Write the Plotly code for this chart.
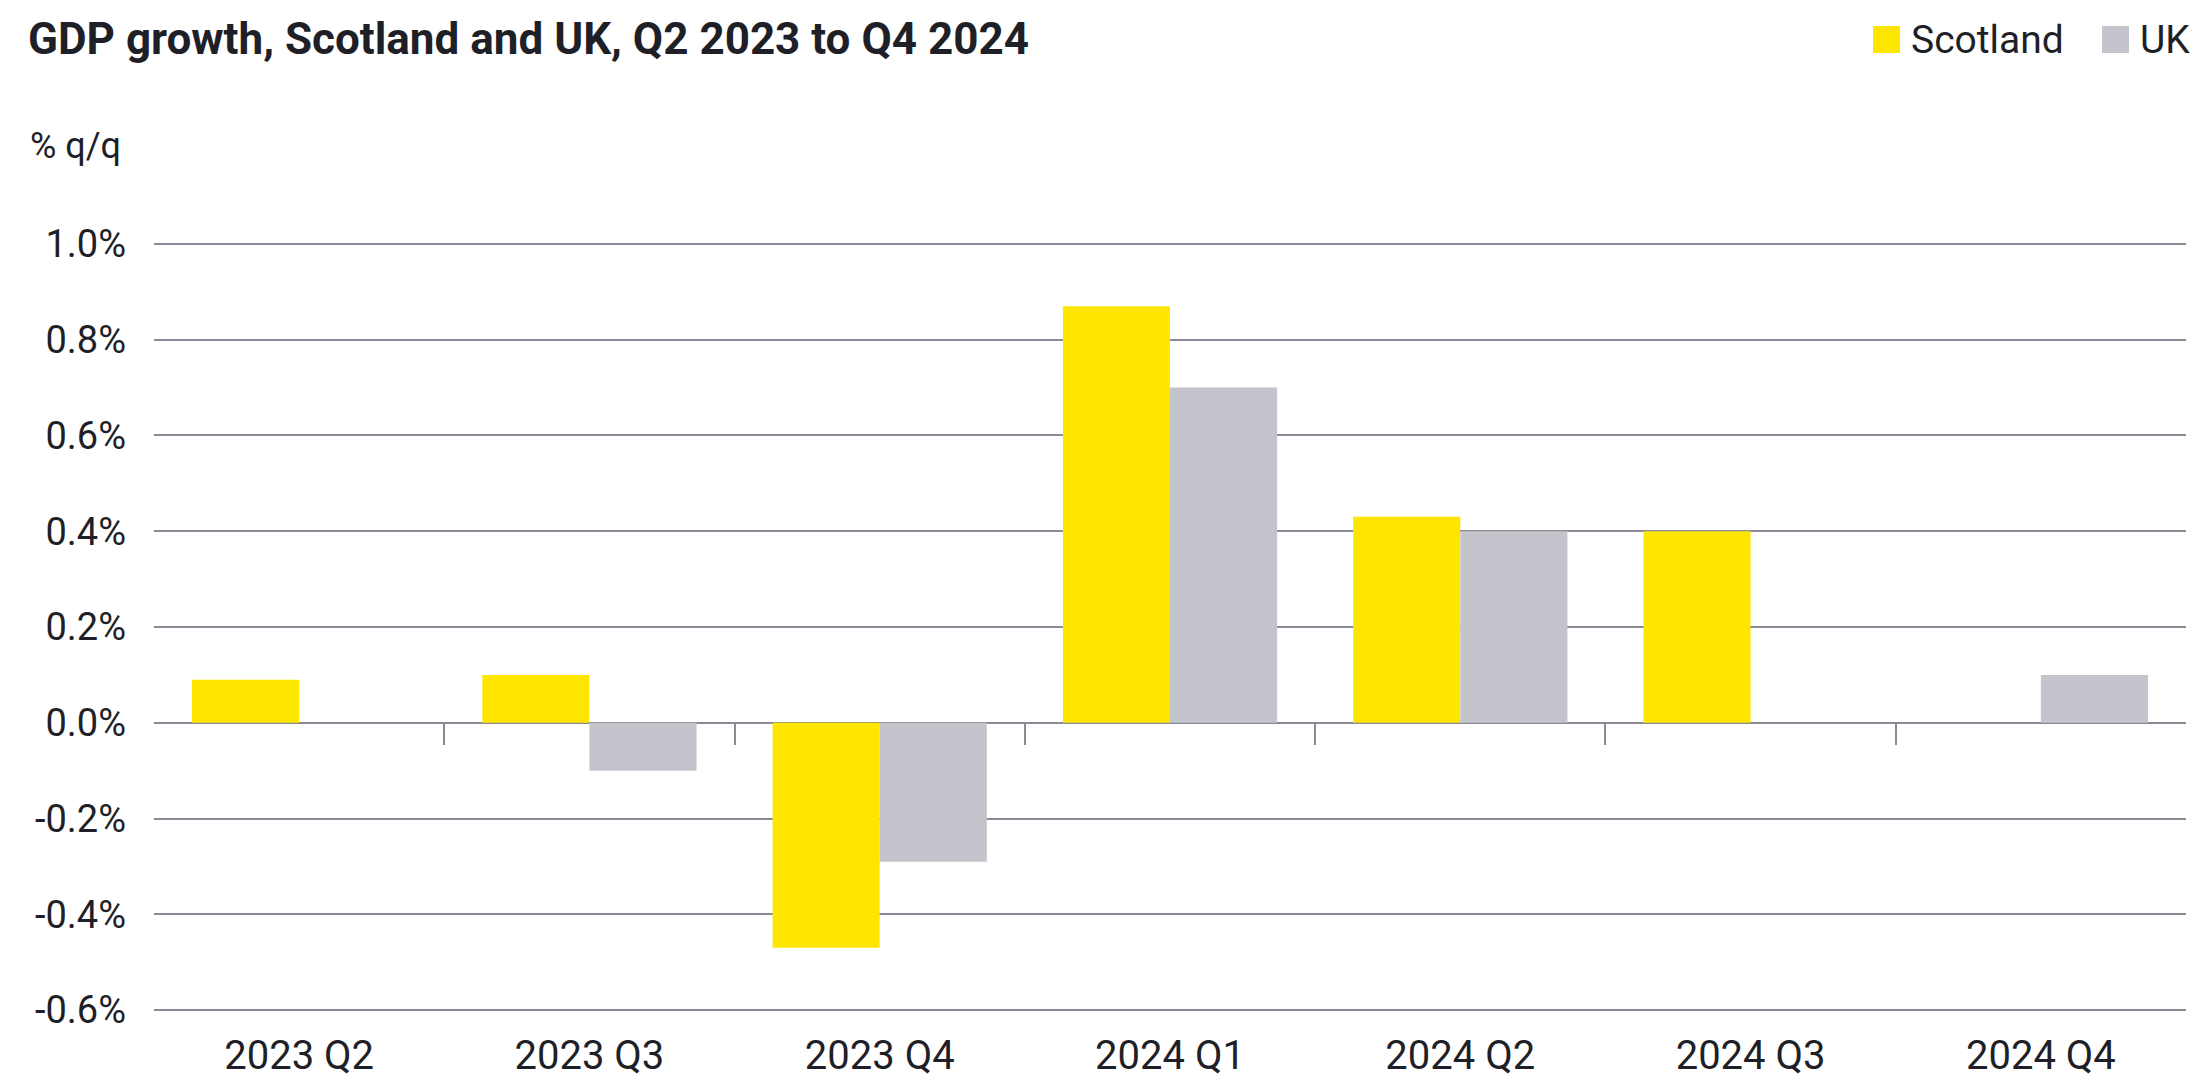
import plotly.graph_objects as go

categories = ["2023 Q2", "2023 Q3", "2023 Q4", "2024 Q1", "2024 Q2", "2024 Q3", "2024 Q4"]
scotland = [0.09, 0.10, -0.47, 0.87, 0.43, 0.40, 0.0]
uk = [0.0, -0.10, -0.29, 0.70, 0.40, 0.0, 0.10]
y_ticks = [-0.6, -0.4, -0.2, 0.0, 0.2, 0.4, 0.6, 0.8, 1.0]
y_tick_text = [f"{v:.1f}%" for v in y_ticks]

YELLOW = "#FFE600"
GREY = "#C4C4CD"
TEXT = "#1F1F28"
GRID = "#8A8A96"

W, H = 2197, 1079
ML, MR, MT, MB = 154, 11, 242, 67
PW = W - ML - MR
PH = H - MT - MB


def px_x(px):
    return (px - ML) / PW


def px_y(py):
    return (H - MB - py) / PH


fig = go.Figure()
fig.add_trace(go.Bar(name="Scotland", x=categories, y=scotland, marker_color=YELLOW,
                     marker_line_width=0, showlegend=False))
fig.add_trace(go.Bar(name="UK", x=categories, y=uk, marker_color=GREY,
                     marker_line_width=0, showlegend=False))
# helper trace so the boundary-tick axis is drawn
fig.add_trace(go.Scatter(x=[], y=[], xaxis="x2", yaxis="y", showlegend=False, hoverinfo="skip"))

pad = 0.004
ymin, ymax = y_ticks[0] - pad, y_ticks[-1] + pad
zero_pos = (0 - ymin) / (ymax - ymin)

font_main = "Roboto, Arial, sans-serif"

fig.update_layout(
    width=W, height=H,
    margin=dict(l=ML, r=MR, t=MT, b=MB, autoexpand=False),
    paper_bgcolor="white", plot_bgcolor="white",
    barmode="group", bargap=0.262, bargroupgap=0,
    showlegend=False,
    font=dict(family=font_main, color=TEXT, size=38),
    title=dict(text="<b>GDP growth, Scotland and UK, Q2 2023 to Q4 2024</b>",
               xref="container", yref="container", x=28 / W, xanchor="left",
               y=1 - 39 / H, yanchor="middle",
               font=dict(family=font_main, size=44, color=TEXT)),
    xaxis=dict(type="category", showgrid=False, showline=False, zeroline=False,
               automargin=False, ticks="", tickfont=dict(size=40, color=TEXT),
               ticklabelstandoff=16, range=[-0.5, len(categories) - 0.5]),
    xaxis2=dict(overlaying="x", anchor="free", position=zero_pos, side="bottom",
                range=[-0.5, len(categories) - 0.5], showgrid=False, zeroline=False,
                automargin=False, showline=False, showticklabels=False,
                ticks="outside", ticklen=21, tickwidth=2, tickcolor=GRID,
                tickvals=[i + 0.5 for i in range(len(categories) - 1)]),
    yaxis=dict(range=[ymin, ymax], tickvals=y_ticks, ticktext=y_tick_text,
               automargin=False, showgrid=True, gridcolor=GRID, gridwidth=2,
               zeroline=True, zerolinecolor=GRID, zerolinewidth=2,
               showline=False, ticks="", ticklabelstandoff=27,
               tickfont=dict(size=38, color=TEXT)),
)

fig.add_annotation(text="% q/q", xref="paper", yref="paper", x=px_x(28), y=px_y(146),
                   xanchor="left", yanchor="middle", showarrow=False,
                   font=dict(family=font_main, size=36, color=TEXT))

# legend (top right)
legend_items = [("Scotland", YELLOW, 1873), ("UK", GREY, 2102)]
for name, color, x0 in legend_items:
    fig.add_shape(type="rect", xref="paper", yref="paper",
                  x0=px_x(x0), x1=px_x(x0 + 27), y0=px_y(53), y1=px_y(26),
                  fillcolor=color, line_width=0, layer="above")
    fig.add_annotation(text=name, xref="paper", yref="paper", x=px_x(x0 + 36), y=px_y(40),
                       xanchor="left", yanchor="middle", showarrow=False,
                       font=dict(family=font_main, size=39, color=TEXT))

fig.write_html("out.html", config={"displayModeBar": False},
               post_script="document.body.style.margin='0';document.body.style.overflow='hidden';")
